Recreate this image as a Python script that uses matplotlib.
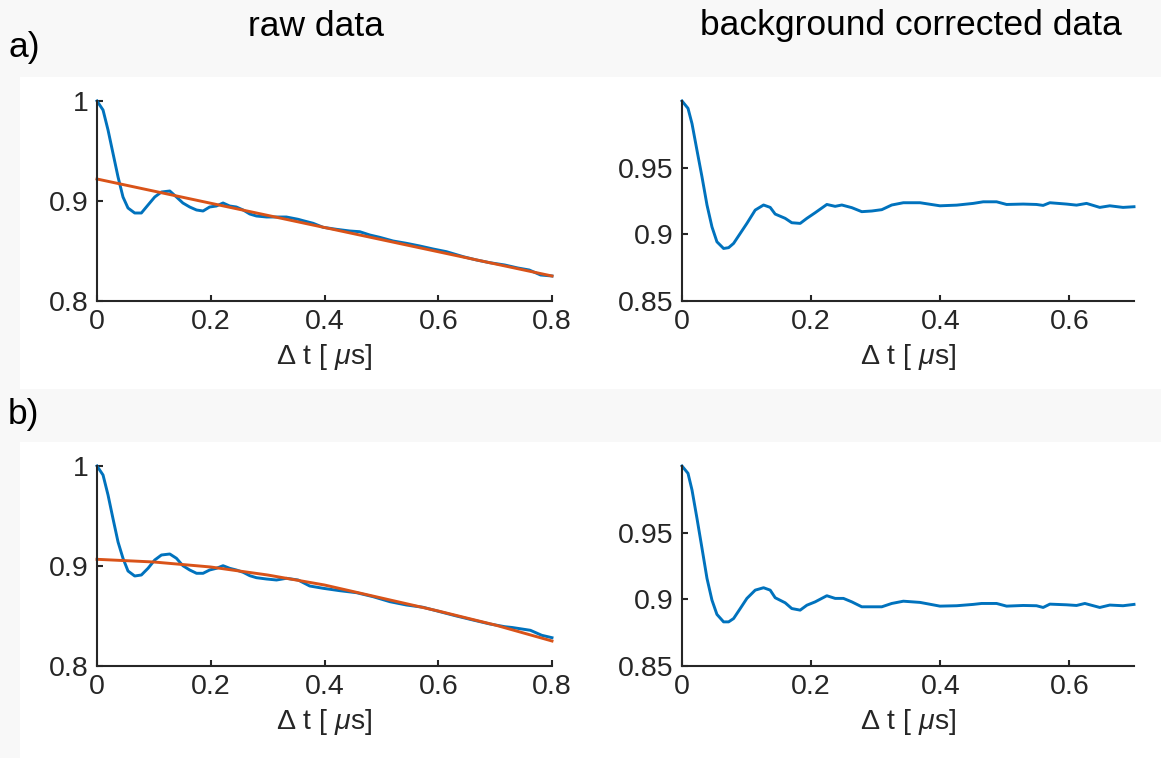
import numpy as np
import matplotlib
matplotlib.use("Agg")
import matplotlib.pyplot as plt
from matplotlib.patches import Rectangle

# a) raw data (blue) and background fit (orange)
tRawA = [0, 0.0106, 0.0194, 0.028, 0.037, 0.0457, 0.0545, 0.0663, 0.078, 0.0897, 0.1015, 0.1133, 0.128,
         0.1397, 0.151, 0.163, 0.175, 0.1865, 0.198, 0.21, 0.2216, 0.2333, 0.245, 0.257, 0.2686, 0.2803,
         0.298, 0.3156, 0.333, 0.3536, 0.3625, 0.38, 0.3976, 0.421, 0.4445, 0.462, 0.4797, 0.497, 0.5207,
         0.544, 0.5676, 0.591, 0.6146, 0.644, 0.6674, 0.6907, 0.717, 0.74, 0.76, 0.78, 0.8]
rawA = [1.0, 0.991, 0.971, 0.948, 0.924, 0.904, 0.893, 0.888, 0.888, 0.896, 0.904, 0.909, 0.910,
        0.904, 0.898, 0.894, 0.891, 0.890, 0.894, 0.895, 0.898, 0.895, 0.894, 0.891, 0.887, 0.885,
        0.884, 0.884, 0.884, 0.8817, 0.8803, 0.8777, 0.8737, 0.8717, 0.870, 0.8693, 0.866, 0.8637, 0.860,
        0.8577, 0.855, 0.852, 0.8493, 0.8443, 0.841, 0.8383, 0.836, 0.833, 0.831, 0.826, 0.825]
tFitA = [0, 0.8]
fitA = [0.922, 0.825]

# a) background corrected
tCorA = [0, 0.0093, 0.0155, 0.0232, 0.031, 0.0387, 0.0464, 0.0541, 0.0644, 0.0722, 0.0799, 0.0902,
         0.1005, 0.1134, 0.1263, 0.1366, 0.1443, 0.1598, 0.170, 0.183, 0.1934, 0.2062, 0.2243, 0.2372,
         0.2475, 0.263, 0.2784, 0.2939, 0.3094, 0.3248, 0.3428, 0.3686, 0.3995, 0.4254, 0.451, 0.4665,
         0.4872, 0.5027, 0.5284, 0.549, 0.5593, 0.5697, 0.5955, 0.611, 0.6265, 0.647, 0.6625, 0.683, 0.7]
corA = [1.0, 0.9945, 0.983, 0.963, 0.943, 0.922, 0.9056, 0.8944, 0.8894, 0.890, 0.8932, 0.9007,
        0.9082, 0.9182, 0.922, 0.9202, 0.9152, 0.912, 0.9087, 0.9082, 0.912, 0.9162, 0.9224, 0.921,
        0.922, 0.920, 0.917, 0.9175, 0.9185, 0.922, 0.9237, 0.9237, 0.9214, 0.9219, 0.9232, 0.9244,
        0.9244, 0.9224, 0.9227, 0.9224, 0.9217, 0.9237, 0.9227, 0.9219, 0.9232, 0.9202, 0.9214, 0.9202, 0.9207]

# b) raw data (blue) and background fit (orange)
tRawB = [0, 0.0106, 0.0194, 0.028, 0.037, 0.0457, 0.0545, 0.0663, 0.078, 0.0897, 0.1015, 0.1133, 0.128,
         0.1397, 0.151, 0.163, 0.175, 0.1865, 0.198, 0.21, 0.2216, 0.2333, 0.245, 0.257, 0.2686, 0.2803,
         0.298, 0.3156, 0.333, 0.3536, 0.374, 0.3976, 0.427, 0.4563, 0.4855, 0.515, 0.544, 0.5735, 0.603,
         0.632, 0.661, 0.691, 0.717, 0.73, 0.762, 0.782, 0.8]
rawB = [1.0, 0.991, 0.971, 0.9477, 0.924, 0.9077, 0.895, 0.890, 0.891, 0.8977, 0.906, 0.911, 0.912,
        0.9077, 0.9003, 0.896, 0.8927, 0.8927, 0.896, 0.8977, 0.9003, 0.8977, 0.896, 0.8937, 0.8903, 0.8883,
        0.887, 0.886, 0.8877, 0.886, 0.880, 0.8777, 0.8753, 0.8733, 0.8693, 0.8643, 0.861, 0.8587, 0.8543,
        0.850, 0.846, 0.842, 0.8393, 0.8385, 0.8357, 0.8307, 0.8283]
tFitB = [0, 0.1, 0.2, 0.3, 0.4, 0.5, 0.6, 0.7, 0.8]
fitB = [0.9067, 0.904, 0.899, 0.891, 0.881, 0.868, 0.855, 0.841, 0.825]

# b) background corrected
tCorB = [0, 0.0093, 0.0155, 0.0232, 0.031, 0.0387, 0.0464, 0.0541, 0.0644, 0.0722, 0.0799, 0.0902,
         0.1005, 0.1134, 0.1263, 0.1366, 0.1443, 0.1598, 0.170, 0.183, 0.1934, 0.2062, 0.2243, 0.2372,
         0.25, 0.263, 0.2784, 0.2939, 0.3094, 0.3248, 0.3428, 0.3686, 0.3995, 0.4254, 0.451, 0.464,
         0.4872, 0.5027, 0.5284, 0.549, 0.5593, 0.5697, 0.5955, 0.611, 0.6239, 0.647, 0.6625, 0.683, 0.7]
corB = [1.0, 0.9945, 0.982, 0.9607, 0.9382, 0.9157, 0.8994, 0.8887, 0.8831, 0.8831, 0.8856, 0.8931,
        0.9007, 0.9069, 0.9087, 0.9069, 0.9012, 0.8974, 0.8931, 0.8919, 0.8956, 0.8981, 0.9027, 0.9007,
        0.9007, 0.8981, 0.8944, 0.8944, 0.8944, 0.8969, 0.8986, 0.8977, 0.8949, 0.8952, 0.8962, 0.8969,
        0.8969, 0.8949, 0.8954, 0.8952, 0.8939, 0.8964, 0.8959, 0.8954, 0.8969, 0.8939, 0.8957, 0.8952, 0.8962]

rawTicks = [0, 0.2, 0.4, 0.6, 0.8]
rawTickLabels = ['0', '0.2', '0.4', '0.6', '0.8']
rawYTicks = [0.8, 0.9, 1.0]
rawYTickLabels = ['0.8', '0.9', '1']
corTicks = [0, 0.2, 0.4, 0.6]
corTickLabels = ['0', '0.2', '0.4', '0.6']
corYTicks = [0.85, 0.9, 0.95]
corYTickLabels = ['0.85', '0.9', '0.95']

BLUE = '#0072BD'
ORANGE = '#D95319'
AXCOL = '#262626'

plt.rcParams['font.family'] = ['Liberation Sans', 'DejaVu Sans']
plt.rcParams['mathtext.fontset'] = 'custom'
plt.rcParams['mathtext.rm'] = 'Liberation Sans'
plt.rcParams['mathtext.it'] = 'Liberation Sans:italic'
FS = 20.5
TFS = 25.5
XLAB = 'Δ t [ $\\mu$s]'

W, H = 1161, 758
fig = plt.figure(figsize=(W / 100, H / 100), dpi=100, facecolor='#f8f8f8')

# white panel backgrounds, behind the axes
for (y0, y1) in [(77, 389), (442, 758)]:
    fig.patches.append(Rectangle((20 / W, 1 - y1 / H), 1 - 20 / W, (y1 - y0) / H,
                                 transform=fig.transFigure, facecolor='white', edgecolor='none', zorder=-10))


def makeAx(x0, x1, y0, y1):
    ax = fig.add_axes([x0 / W, 1 - y1 / H, (x1 - x0) / W, (y1 - y0) / H])
    ax.set_facecolor('white')
    for s in ['top', 'right']:
        ax.spines[s].set_visible(False)
    for s in ['left', 'bottom']:
        ax.spines[s].set_color(AXCOL)
        ax.spines[s].set_linewidth(1.5)
    ax.tick_params(direction='in', length=4, width=1.5, color=AXCOL, labelcolor=AXCOL,
                   labelsize=FS, pad=6)
    return ax


def rawPanel(x0, x1, y0, y1, t, v, tf, f):
    ax = makeAx(x0, x1, y0, y1)
    ax.plot(t, v, color=BLUE, lw=2.1, clip_on=False)
    ax.plot(tf, f, color=ORANGE, lw=2.1, clip_on=False)
    ax.set_xlim(0, 0.8)
    ax.set_ylim(0.8, 1.0)
    ax.set_xticks(rawTicks)
    ax.set_xticklabels(rawTickLabels)
    ax.set_yticks(rawYTicks)
    ax.set_yticklabels(rawYTickLabels)
    ax.set_xlabel(XLAB, fontsize=FS, color=AXCOL, labelpad=5)
    return ax


def corPanel(x0, x1, y0, y1, t, v):
    ax = makeAx(x0, x1, y0, y1)
    ax.plot(t, v, color=BLUE, lw=2.1, clip_on=False)
    ax.set_xlim(0, 0.7)
    ax.set_ylim(0.85, 1.0)
    ax.set_xticks(corTicks)
    ax.set_xticklabels(corTickLabels)
    ax.set_yticks(corYTicks)
    ax.set_yticklabels(corYTickLabels)
    ax.set_xlabel(XLAB, fontsize=FS, color=AXCOL, labelpad=5)
    return ax


rawPanel(97, 552, 101, 301, tRawA, rawA, tFitA, fitA)
corPanel(682, 1134, 101, 301, tCorA, corA)
rawPanel(97, 552, 466, 666, tRawB, rawB, tFitB, fitB)
corPanel(682, 1134, 466, 666, tCorB, corB)

fig.text(316 / W, 1 - 26 / H, 'raw data', fontsize=TFS, color='black', ha='center', va='center')
fig.text(911 / W, 1 - 26 / H, 'background corrected data', fontsize=TFS, color='black',
         ha='center', va='center')
fig.text(8 / W, 1 - 48 / H, 'a)', fontsize=TFS, color='black', ha='left', va='center')
fig.text(8 / W, 1 - 414 / H, 'b)', fontsize=TFS, color='black', ha='left', va='center')

fig.savefig('out.png', dpi=100, facecolor=fig.get_facecolor())
